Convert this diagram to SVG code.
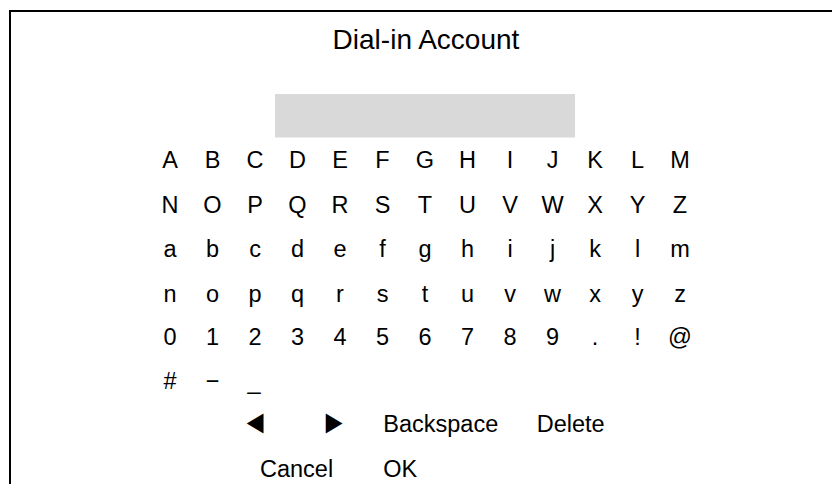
<svg xmlns="http://www.w3.org/2000/svg" width="832" height="484" viewBox="0 0 832 484">
<style>
text{font-family:"Liberation Sans",Arial,sans-serif;fill:#000}
.k{font-size:23.5px;text-anchor:middle}
.b{font-size:23.5px}
.t{font-size:28px;text-anchor:middle}
.arr{font-size:28px;text-anchor:middle}
</style>
<rect width="832" height="484" fill="#fff"/>
<path id="frame" d="M10 484V11H832" fill="none" stroke="#000" stroke-width="2"/>
<g id="title"><text class="t" x="426" y="49">Dial-in Account</text></g>
<g id="input"><rect x="275" y="94" width="300" height="43.5" fill="#d9d9d9"/></g>
<g id="row1">
<text class="k" x="170" y="168">A</text><text class="k" x="212.5" y="168">B</text><text class="k" x="255" y="168">C</text><text class="k" x="297.5" y="168">D</text><text class="k" x="340" y="168">E</text><text class="k" x="382.5" y="168">F</text><text class="k" x="425" y="168">G</text><text class="k" x="467.5" y="168">H</text><text class="k" x="510" y="168">I</text><text class="k" x="552.5" y="168">J</text><text class="k" x="595" y="168">K</text><text class="k" x="637.5" y="168">L</text><text class="k" x="680" y="168">M</text>
</g>
<g id="row2">
<text class="k" x="170" y="213">N</text><text class="k" x="212.5" y="213">O</text><text class="k" x="255" y="213">P</text><text class="k" x="297.5" y="213">Q</text><text class="k" x="340" y="213">R</text><text class="k" x="382.5" y="213">S</text><text class="k" x="425" y="213">T</text><text class="k" x="467.5" y="213">U</text><text class="k" x="510" y="213">V</text><text class="k" x="552.5" y="213">W</text><text class="k" x="595" y="213">X</text><text class="k" x="637.5" y="213">Y</text><text class="k" x="680" y="213">Z</text>
</g>
<g id="row3">
<text class="k" x="170" y="257">a</text><text class="k" x="212.5" y="257">b</text><text class="k" x="255" y="257">c</text><text class="k" x="297.5" y="257">d</text><text class="k" x="340" y="257">e</text><text class="k" x="382.5" y="257">f</text><text class="k" x="425" y="257">g</text><text class="k" x="467.5" y="257">h</text><text class="k" x="510" y="257">i</text><text class="k" x="552.5" y="257">j</text><text class="k" x="595" y="257">k</text><text class="k" x="637.5" y="257">l</text><text class="k" x="680" y="257">m</text>
</g>
<g id="row4">
<text class="k" x="170" y="302">n</text><text class="k" x="212.5" y="302">o</text><text class="k" x="255" y="302">p</text><text class="k" x="297.5" y="302">q</text><text class="k" x="340" y="302">r</text><text class="k" x="382.5" y="302">s</text><text class="k" x="425" y="302">t</text><text class="k" x="467.5" y="302">u</text><text class="k" x="510" y="302">v</text><text class="k" x="552.5" y="302">w</text><text class="k" x="595" y="302">x</text><text class="k" x="637.5" y="302">y</text><text class="k" x="680" y="302">z</text>
</g>
<g id="row5">
<text class="k" x="170" y="345">0</text><text class="k" x="212.5" y="345">1</text><text class="k" x="255" y="345">2</text><text class="k" x="297.5" y="345">3</text><text class="k" x="340" y="345">4</text><text class="k" x="382.5" y="345">5</text><text class="k" x="425" y="345">6</text><text class="k" x="467.5" y="345">7</text><text class="k" x="510" y="345">8</text><text class="k" x="552.5" y="345">9</text><text class="k" x="595" y="345">.</text><text class="k" x="637.5" y="345">!</text><text class="k" x="680" y="345">@</text>
</g>
<g id="row6">
<text class="k" x="170" y="389">#</text><text class="k" x="212.5" y="389">−</text><text class="k" x="254" y="389">_</text>
</g>
<g id="row7">
<text class="arr" transform="translate(255 433) scale(1 1.2)">◄</text><text class="arr" transform="translate(334 433) scale(1 1.2)">►</text><text class="b" x="383.3" y="432">Backspace</text><text class="b" x="536.7" y="432">Delete</text>
</g>
<g id="row8">
<text class="b" x="260" y="477">Cancel</text><text class="b" x="383.3" y="477">OK</text>
</g>
</svg>
